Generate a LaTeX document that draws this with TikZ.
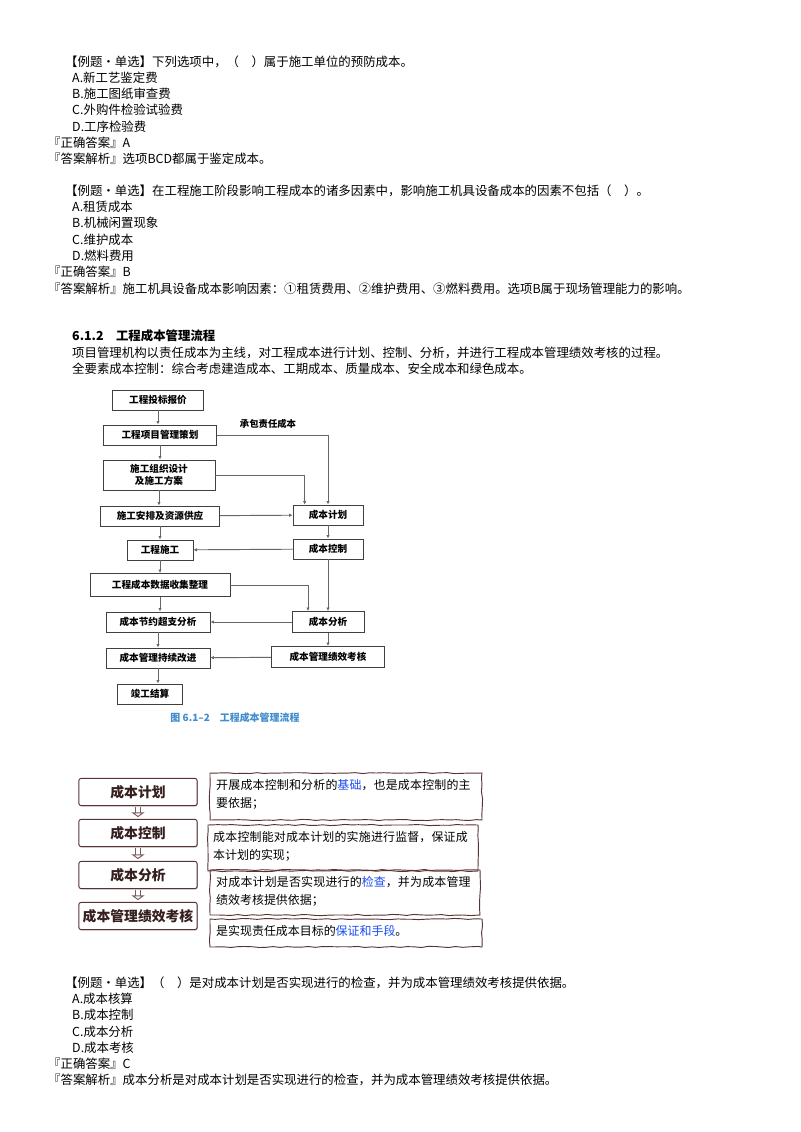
\documentclass[tikz,border=0pt]{standalone}
\usepackage{fontspec}
\setmainfont{Noto Sans CJK SC}
\XeTeXlinebreaklocale "zh"
\XeTeXlinebreakskip=0pt plus 1pt
\usetikzlibrary{arrows.meta,positioning,decorations.pathmorphing,shadows}
\definecolor{cap.fg}{rgb}{0.25,0.55,0.8}
\definecolor{hl.fg}{rgb}{0.1,0.3,0.95}
\definecolor{sk.fg}{rgb}{0.35,0.2,0.2}

\begin{document}
\begin{tikzpicture}[x=0.03cm,y=-0.03cm,
    txt/.style={anchor=west, inner sep=0, font=\fontsize{10.6pt}{12pt}\selectfont},
    fbox/.style={draw=black!75, thick, inner sep=2pt, align=center,
      font=\fontsize{8.2pt}{10.5pt}\selectfont\bfseries},
    farr/.style={-{Latex[length=3pt,width=3pt]}, black!60, thick},
    sbox/.style={draw=sk.fg, rounded corners=2pt, thick, fill=white,
      drop shadow={shadow xshift=0.5pt, shadow yshift=-0.7pt, opacity=0.6},
      minimum width=3.55cm, minimum height=0.82cm, inner sep=1pt,
      font=\fontsize{11.8pt}{14pt}\selectfont\bfseries},
    wbox/.style={draw=sk.fg, thick, decorate,
      decoration={random steps, segment length=6pt, amplitude=0.5pt}},
    wtxt/.style={anchor=north west, text width=7.75cm, align=left, inner sep=0,
      font=\fontsize{10.2pt}{15.5pt}\selectfont},
    hollow/.style={-{Triangle[open,length=4pt,width=11pt]}, line width=0.8pt,
      draw=sk.fg!80, double=white, double distance=3.5pt, shorten <=1pt, shorten >=1.5pt}]
  \useasboundingbox[fill=white] (0,0) rectangle (800,1132);

  % first question
  \node[txt] (q1) at (65,62) {【例题·单选】下列选项中，（\quad ）属于施工单位的预防成本。};
  \node[txt] (q1a) at (72,78) {A.新工艺鉴定费};
  \node[txt] (q1b) at (72,94) {B.施工图纸审查费};
  \node[txt] (q1c) at (72,110) {C.外购件检验试验费};
  \node[txt] (q1d) at (72,127) {D.工序检验费};
  \node[txt] (q1k) at (48,143) {『正确答案』A};
  \node[txt] (q1e) at (48,159) {『答案解析』选项BCD都属于鉴定成本。};

  % second question
  \node[txt] (q2) at (65,191) {【例题·单选】在工程施工阶段影响工程成本的诸多因素中，影响施工机具设备成本的因素不包括（\quad ）。};
  \node[txt] (q2a) at (72,207) {A.租赁成本};
  \node[txt] (q2b) at (72,223) {B.机械闲置现象};
  \node[txt] (q2c) at (72,240) {C.维护成本};
  \node[txt] (q2d) at (72,256) {D.燃料费用};
  \node[txt] (q2k) at (48,272) {『正确答案』B};
  \node[txt] (q2e) at (48,289) {『答案解析』施工机具设备成本影响因素：①租赁费用、②维护费用、③燃料费用。选项B属于现场管理能力的影响。};

  % section
  \node[txt, font=\fontsize{10.6pt}{12pt}\selectfont\bfseries] (sec) at (72,336) {6.1.2\quad 工程成本管理流程};
  \node[txt] (p1) at (72,353) {项目管理机构以责任成本为主线，对工程成本进行计划、控制、分析，并进行工程成本管理绩效考核的过程。};
  \node[txt] (p2) at (72,369) {全要素成本控制：综合考虑建造成本、工期成本、质量成本、安全成本和绿色成本。};

  % flow chart
  \node[fbox, minimum width=2.73cm, minimum height=0.6cm] (tb) at (158,400) {工程投标报价};
  \node[fbox, minimum width=3.39cm, minimum height=0.6cm] (ch) at (160,435) {工程项目管理策划};
  \node[fbox, minimum width=3.36cm, minimum height=0.9cm] (zz) at (159,475) {施工组织设计\\及施工方案};
  \node[fbox, minimum width=3.57cm, minimum height=0.6cm] (ap) at (160,516) {施工安排及资源供应};
  \node[fbox, minimum width=1.98cm, minimum height=0.6cm] (sg) at (160,550) {工程施工};
  \node[fbox, minimum width=4.2cm, minimum height=0.69cm] (sj) at (160,585) {工程成本数据收集整理};
  \node[fbox, minimum width=3.12cm, minimum height=0.6cm] (jy) at (158,622) {成本节约超支分析};
  \node[fbox, minimum width=3.12cm, minimum height=0.6cm] (gj) at (158,658) {成本管理持续改进};
  \node[fbox, minimum width=1.95cm, minimum height=0.6cm] (js) at (150,694) {竣工结算};
  \node[fbox, minimum width=2.1cm, minimum height=0.6cm] (jh) at (328,515) {成本计划};
  \node[fbox, minimum width=2.1cm, minimum height=0.6cm] (kz) at (328,549) {成本控制};
  \node[fbox, minimum width=2.16cm, minimum height=0.63cm] (fx) at (328,622) {成本分析};
  \node[fbox, minimum width=3.39cm, minimum height=0.63cm] (kh) at (328,657) {成本管理绩效考核};
  \node[font=\fontsize{8pt}{10pt}\selectfont\bfseries] (cb) at (268,424) {承包责任成本};
  \node[font=\fontsize{8.5pt}{10pt}\selectfont\bfseries, text=cap.fg] (cap) at (235,718) {图 6.1–2\quad 工程成本管理流程};

  \foreach \a/\b in {tb/ch, ch/zz, zz/ap, ap/sg, sg/sj, sj/jy, jy/gj, jh/kz, kz/fx, fx/kh}
    \draw[farr] (\a) -- (\a |- \b.north);
  \draw[farr] (gj) -- (gj |- js.north);
  \draw[farr] (ch) -| (jh.north);
  \draw[farr] (zz.east) -| ([xshift=-0.7cm]jh.north);
  \draw[farr] (ap) -- (jh);
  \draw[farr] (kz) -- (sg);
  \draw[farr] (sj.east) -| ([xshift=-0.6cm]fx.north);
  \draw[farr] (fx) -- (jy);
  \draw[farr] (kh) -- (gj);

  % sketch diagram
  \node[sbox] (s1) at (138,792) {\textcolor{sk.fg!60!black}{成本计划}};
  \node[sbox] (s2) at (138,833) {\textcolor{sk.fg!60!black}{成本控制}};
  \node[sbox] (s3) at (138,875) {\textcolor{sk.fg!60!black}{成本分析}};
  \node[sbox] (s4) at (138,916) {\textcolor{sk.fg!60!black}{成本管理绩效考核}};
  \foreach \a/\b in {s1/s2, s2/s3, s3/s4}
    \draw[hollow] (\a.south) -- (\b.north);

  \draw[wbox] (210,773) rectangle (482,820);
  \draw[wbox] (208,825) rectangle (478,871);
  \draw[wbox] (210,870) rectangle (480,915);
  \draw[wbox] (210,919) rectangle (482,947);
  \node[wtxt] (w1) at (216,779) {开展成本控制和分析的\textcolor{hl.fg}{基础}，也是成本控制的主要依据；};
  \node[wtxt] (w2) at (213,831) {成本控制能对成本计划的实施进行监督，保证成本计划的实现；};
  \node[wtxt] (w3) at (216,876) {对成本计划是否实现进行的\textcolor{hl.fg}{检查}，并为成本管理绩效考核提供依据；};
  \node[wtxt] (w4) at (216,925) {是实现责任成本目标的\textcolor{hl.fg}{保证和手段}。};

  % third question
  \node[txt] (q3) at (65,983) {【例题·单选】（\quad ）是对成本计划是否实现进行的检查，并为成本管理绩效考核提供依据。};
  \node[txt] (q3a) at (72,999) {A.成本核算};
  \node[txt] (q3b) at (72,1015) {B.成本控制};
  \node[txt] (q3c) at (72,1032) {C.成本分析};
  \node[txt] (q3d) at (72,1048) {D.成本考核};
  \node[txt] (q3k) at (48,1064) {『正确答案』C};
  \node[txt] (q3e) at (48,1080) {『答案解析』成本分析是对成本计划是否实现进行的检查，并为成本管理绩效考核提供依据。};
\end{tikzpicture}
\end{document}
